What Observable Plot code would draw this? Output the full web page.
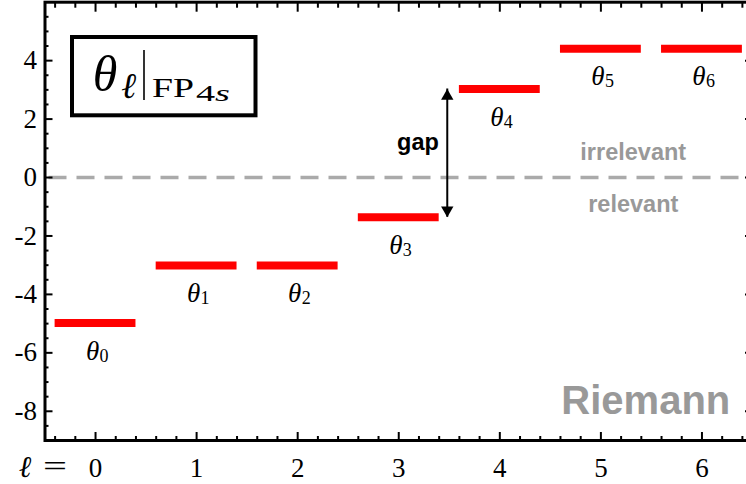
<!DOCTYPE html>
<html>
<head>
<meta charset="utf-8">
<script src="https://cdn.jsdelivr.net/npm/d3@7"></script>
<script src="https://cdn.jsdelivr.net/npm/@observablehq/plot@0.6"></script>
<style>
  html, body { margin: 0; padding: 0; background: #fff; }
  #wrap { width: 746px; height: 484px; overflow: hidden; position: relative; }
  #wrap svg { max-width: none !important; }
</style>
</head>
<body>
<div id="wrap"></div>
<script>
// ---- data ----
const ell = [0, 1, 2, 3, 4, 5, 6];
const theta = [-4.98, -3.01, -3.01, -1.36, 3.03, 4.41, 4.41];
const subscripts = ["0", "1", "2", "3", "4", "5", "6"];
const xTicks = [0, 1, 2, 3, 4, 5, 6];
const yTicks = [-8, -6, -4, -2, 0, 2, 4];
const xMinorTicks = [-0.4,-0.2,0.2,0.4,0.6,0.8,1.2,1.4,1.6,1.8,2.2,2.4,2.6,2.8,3.2,3.4,3.6,3.8,4.2,4.4,4.6,4.8,5.2,5.4,5.6,5.8,6.2,6.4];
const yMinorTicks = [-8.5,-7.5,-7,-6.5,-5.5,-5,-4.5,-3.5,-3,-2.5,-1.5,-1,-0.5,0.5,1,1.5,2.5,3,3.5,4.5,5,5.5];
const gapFrom = 3, gapTo = 4; // indices of θ3 and θ4

const rows = ell.map((l, i) => ({l, theta: theta[i], sub: subscripts[i]}));
const gapX = 3.48;

const serif = "'Liberation Serif', 'DejaVu Serif', serif";
const sans = "'Liberation Sans', Arial, Helvetica, sans-serif";

// title box and "ℓ =" caption drawn as a custom mark
function titleBox() {
  const g = d3.create("svg:g").attr("text-anchor", "start");
  g.append("rect").attr("x", 72).attr("y", 37).attr("width", 183.5).attr("height", 78.3)
    .attr("fill", "white").attr("stroke", "black").attr("stroke-width", 4);
  g.append("text").attr("x", 105).attr("y", 91).attr("text-anchor", "middle")
    .attr("font-family", serif).attr("font-style", "italic").attr("font-size", 50).text("θ");
  g.append("text").attr("x", 128.5).attr("y", 98).attr("text-anchor", "middle")
    .attr("font-family", serif).attr("font-style", "italic").attr("font-size", 36).text("ℓ");
  g.append("line").attr("x1", 144).attr("x2", 144).attr("y1", 50).attr("y2", 100)
    .attr("stroke", "black").attr("stroke-width", 1.6);
  g.append("text").attr("x", 152).attr("y", 96.7).attr("text-anchor", "start")
    .attr("font-family", serif).attr("font-size", 28)
    .attr("textLength", 42).attr("lengthAdjust", "spacingAndGlyphs").text("FP");
  const t = g.append("text").attr("x", 196).attr("y", 100.5).attr("text-anchor", "start")
    .attr("font-family", serif).attr("font-size", 23)
    .attr("textLength", 34).attr("lengthAdjust", "spacingAndGlyphs");
  t.append("tspan").text("4");
  t.append("tspan").attr("font-style", "italic").text("s");
  // "ℓ =" axis caption
  g.append("text").attr("x", 25).attr("y", 477).attr("text-anchor", "middle")
    .attr("font-family", serif).attr("font-style", "italic").attr("font-size", 30).text("ℓ");
  g.append("text").attr("x", 43).attr("y", 476).attr("text-anchor", "start")
    .attr("font-family", serif).attr("font-size", 30)
    .attr("textLength", 24).attr("lengthAdjust", "spacingAndGlyphs").text("=");
  return g.node();
}

const chart = Plot.plot({
  width: 752,
  height: 484,
  marginLeft: 44.5,
  marginRight: 0,
  marginTop: 1.7,
  marginBottom: 44,
  x: {domain: [-0.5, 6.5]},
  y: {domain: [-9, 6]},
  style: {background: "white", color: "black", maxWidth: "none"},
  marks: [
    // zero line
    Plot.ruleY([0], {stroke: "#aaaaaa", strokeWidth: 3.5, strokeDasharray: "18,10", strokeDashoffset: 24}),
    // eigenvalue bars
    Plot.ruleY(rows, {y: "theta", x1: d => d.l - 0.4, x2: d => d.l + 0.4, stroke: "#ff0000", strokeWidth: 8}),
    // θ labels
    Plot.text(rows, {x: "l", y: "theta", text: () => "θ", dx: -3, dy: 28, fontFamily: serif, fontStyle: "italic", fontSize: 27}),
    Plot.text(rows, {x: "l", y: "theta", text: "sub", dx: 4, dy: 33, textAnchor: "start", fontFamily: serif, fontSize: 18}),
    // gap arrow
    Plot.ruleX([0], {x: () => gapX, y1: () => theta[gapFrom], y2: () => theta[gapTo], stroke: "black", strokeWidth: 2}),
    Plot.dot([0], {x: () => gapX, y: () => theta[gapTo], symbol: "triangle", r: 4.6, fill: "black", stroke: null, dy: 7.1}),
    Plot.dot([0], {x: () => gapX, y: () => theta[gapFrom], symbol: "triangle", r: 4.6, fill: "black", stroke: null, rotate: 180, dy: -7.1}),
    // annotations
    Plot.text(["gap"], {x: () => 3.19, y: () => 1.2, text: d => d, fontFamily: sans, fontWeight: "bold", fontSize: 23.5, fill: "black"}),
    Plot.text(["irrelevant"], {x: () => 5.32, y: () => 0.85, text: d => d, fontFamily: sans, fontWeight: "bold", fontSize: 23.5, fill: "#999999"}),
    Plot.text(["relevant"], {x: () => 5.32, y: () => -0.92, text: d => d, fontFamily: sans, fontWeight: "bold", fontSize: 23.5, fill: "#999999"}),
    Plot.text(["Riemann"], {x: () => 6.28, y: () => -7.65, text: d => d, textAnchor: "end", fontFamily: sans, fontWeight: "bold", fontSize: 40, fill: "#999999"}),
    // axes: labels
    Plot.axisX(xTicks, {anchor: "bottom", tickSize: 0, tickPadding: 17, fontSize: 27, fontFamily: serif, label: null}),
    Plot.axisY(yTicks, {anchor: "left", tickSize: 0, tickPadding: 8, fontSize: 27, fontFamily: serif, label: null, tickFormat: d => String(d)}),
    // axes: inward ticks
    Plot.axisX(xTicks, {anchor: "bottom", tickSize: -8, strokeWidth: 2, text: null, label: null}),
    Plot.axisX(xMinorTicks, {anchor: "bottom", tickSize: -4, strokeWidth: 2, text: null, label: null}),
    Plot.axisX(xTicks, {anchor: "top", tickSize: -9, strokeWidth: 2, text: null, label: null}),
    Plot.axisX(xMinorTicks, {anchor: "top", tickSize: -5, strokeWidth: 2, text: null, label: null}),
    Plot.axisY(yTicks, {anchor: "left", tickSize: -8, strokeWidth: 2, text: null, label: null}),
    Plot.axisY(yMinorTicks, {anchor: "left", tickSize: -4, strokeWidth: 2, text: null, label: null}),
    Plot.axisY(yTicks, {anchor: "right", tickSize: -8, strokeWidth: 2, text: null, label: null}),
    Plot.axisY(yMinorTicks, {anchor: "right", tickSize: -4, strokeWidth: 2, text: null, label: null}),
    Plot.frame({stroke: "black", strokeWidth: 3}),
    titleBox
  ]
});
chart.style.maxWidth = "none";
document.getElementById("wrap").appendChild(chart);
</script>
</body>
</html>
